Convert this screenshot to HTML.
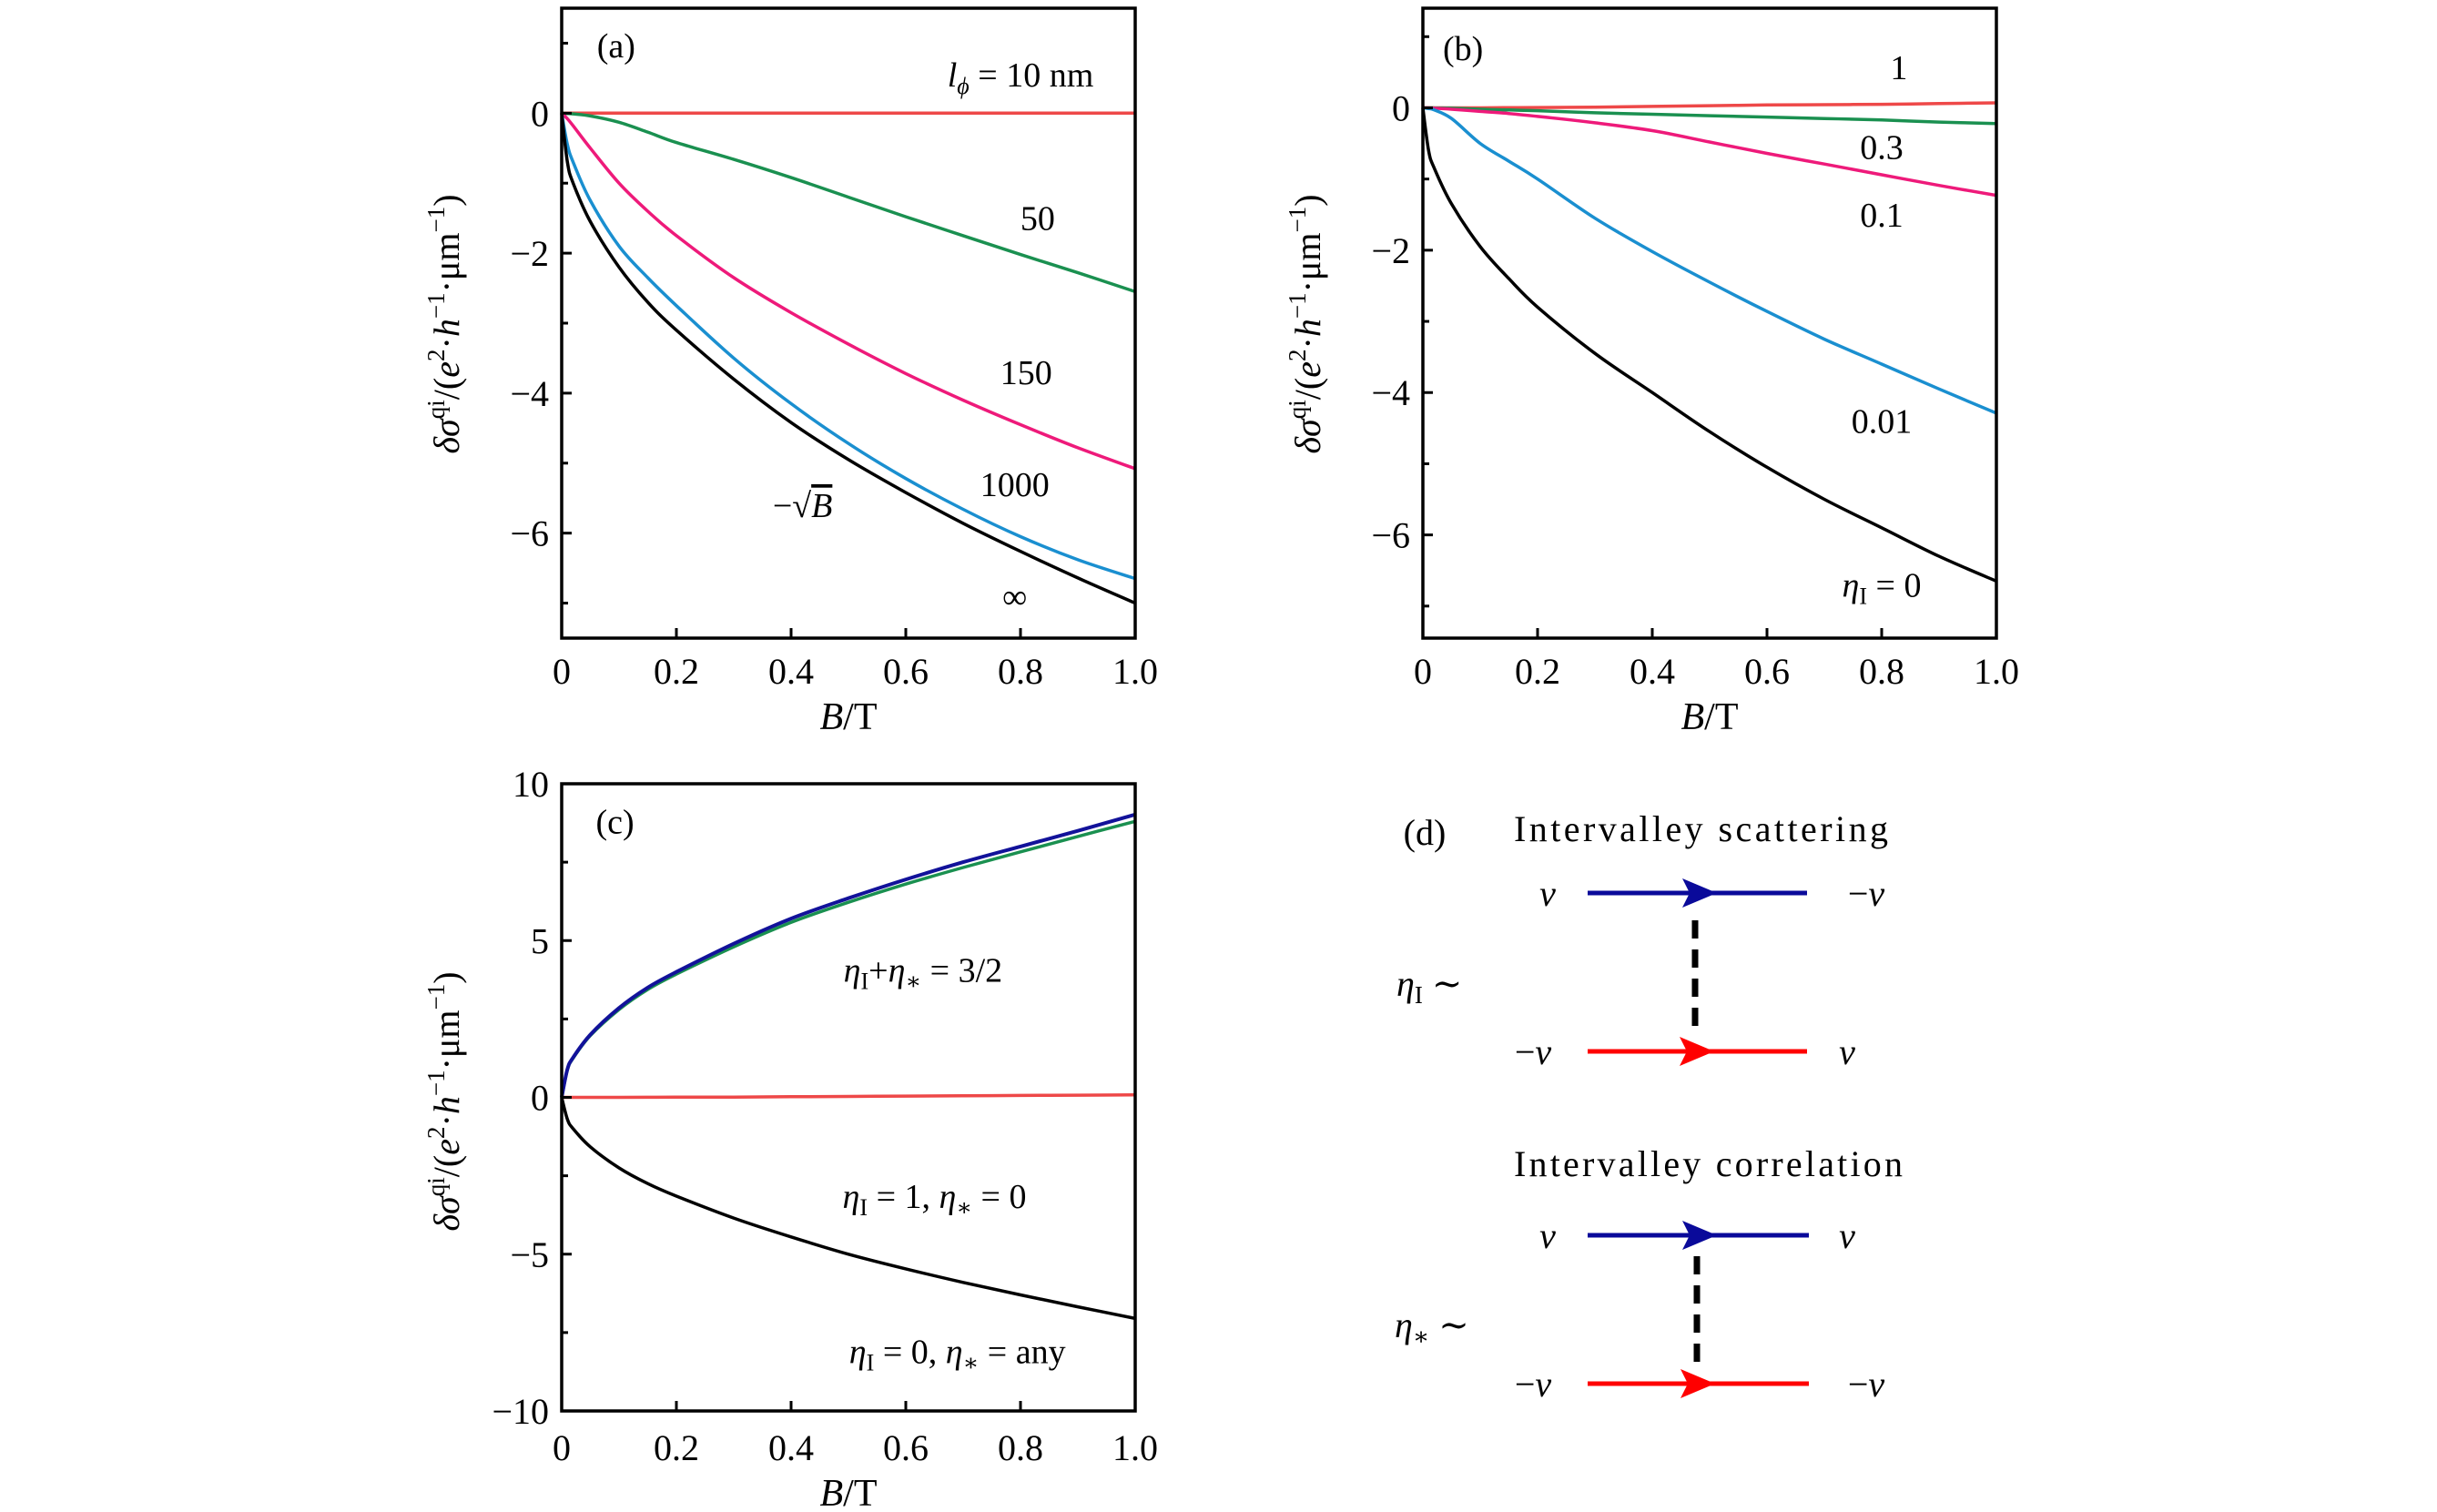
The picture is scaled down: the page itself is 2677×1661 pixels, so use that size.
<!DOCTYPE html>
<html><head><meta charset="utf-8"><style>
html,body{margin:0;padding:0;background:#fff}
svg{display:block}
text{font-family:"Liberation Serif","DejaVu Serif",serif;fill:#000}
.it{font-style:italic}
</style></head><body>
<svg id="fig" width="2677" height="1661" viewBox="0 0 2677 1661" xmlns="http://www.w3.org/2000/svg">
<g id="pa"></g>
<g id="pb"></g>
<g id="pc"></g>
<g id="pd">
  <text x="1565" y="928" font-size="40" text-anchor="middle">(d)</text>
  <text x="1663" y="924" font-size="40" textLength="411">Intervalley scattering</text>
  <line x1="1744" y1="981" x2="1985" y2="981" stroke="#0a0a9a" stroke-width="5"/>
  <path d="M1848,965 L1886,981 L1848,997 L1856,981 Z" fill="#0a0a9a"/>
  <text x="1700" y="995" font-size="40" class="it" text-anchor="middle">ν</text>
  <text x="2050" y="995" font-size="40" text-anchor="middle">−<tspan class="it">ν</tspan></text>
  <line x1="1862" y1="1011" x2="1862" y2="1134" stroke="#000" stroke-width="7" stroke-dasharray="20,12"/>
  <line x1="1744" y1="1155" x2="1985" y2="1155" stroke="#ff0000" stroke-width="5"/>
  <path d="M1845,1139 L1883,1155 L1845,1171 L1853,1155 Z" fill="#ff0000"/>
  <text x="1684" y="1169" font-size="40" text-anchor="middle">−<tspan class="it">ν</tspan></text>
  <text x="2029" y="1169" font-size="40" class="it" text-anchor="middle">ν</text>
  <text x="1534" y="1094" font-size="40"><tspan class="it">η</tspan><tspan font-size="27" dy="8">I</tspan><tspan dy="-8"> ∼</tspan></text>
  <text x="1663" y="1292" font-size="40" textLength="427">Intervalley correlation</text>
  <line x1="1744" y1="1357" x2="1987" y2="1357" stroke="#0a0a9a" stroke-width="5"/>
  <path d="M1848,1341 L1886,1357 L1848,1373 L1856,1357 Z" fill="#0a0a9a"/>
  <text x="1700" y="1371" font-size="40" class="it" text-anchor="middle">ν</text>
  <text x="2029" y="1371" font-size="40" class="it" text-anchor="middle">ν</text>
  <line x1="1864" y1="1380" x2="1864" y2="1503" stroke="#000" stroke-width="7" stroke-dasharray="20,12"/>
  <line x1="1744" y1="1520" x2="1987" y2="1520" stroke="#ff0000" stroke-width="5"/>
  <path d="M1846,1504 L1884,1520 L1846,1536 L1854,1520 Z" fill="#ff0000"/>
  <text x="1684" y="1534" font-size="40" text-anchor="middle">−<tspan class="it">ν</tspan></text>
  <text x="2050" y="1534" font-size="40" text-anchor="middle">−<tspan class="it">ν</tspan></text>
  <text x="1532" y="1469" font-size="40"><tspan class="it">η</tspan><tspan font-size="27" dy="8">∗</tspan><tspan dy="-8"> ∼</tspan></text>
</g>
</svg>
<script>
const NS="http://www.w3.org/2000/svg";
const Bvals=[0,0.01,0.02,0.05,0.1,0.15,0.2,0.3,0.4,0.5,0.6,0.7,0.8,0.9,1.0];
const xTicks=[0,0.2,0.4,0.6,0.8,1.0];
const xTickLabels=["0","0.2","0.4","0.6","0.8","1.0"];
// panel a
const aBlack=[0,-0.7,-1.0,-1.55,-2.2,-2.7,-3.1,-3.8,-4.42,-4.95,-5.42,-5.86,-6.26,-6.64,-7.0];
const aBlue=[0,-0.45,-0.7,-1.25,-1.9,-2.35,-2.75,-3.5,-4.15,-4.72,-5.22,-5.66,-6.05,-6.38,-6.65];
const aMagenta=[0,-0.08,-0.18,-0.5,-1.0,-1.4,-1.75,-2.35,-2.85,-3.3,-3.72,-4.1,-4.45,-4.78,-5.08];
const aGreen=[0,-0.005,-0.01,-0.04,-0.13,-0.27,-0.42,-0.66,-0.92,-1.2,-1.48,-1.75,-2.02,-2.28,-2.55];
const aRed=[0,0,0,0,0,0,0,0,0,0,0,0,0,0,0];
const abYTicks=[0,-2,-4,-6];
const abYTickLabels=["0","−2","−4","−6"];
const abYMinor=[1,-1,-3,-5,-7];
// panel b
const bBlack=[0,-0.6,-0.85,-1.35,-1.95,-2.4,-2.8,-3.45,-4.0,-4.55,-5.05,-5.5,-5.9,-6.3,-6.65];
const bBlue=[0,-0.01,-0.03,-0.15,-0.5,-0.75,-1.0,-1.55,-2.02,-2.45,-2.86,-3.25,-3.6,-3.95,-4.29];
const bMagenta=[0,0,-0.005,-0.02,-0.05,-0.08,-0.12,-0.21,-0.32,-0.48,-0.64,-0.79,-0.94,-1.09,-1.23];
const bGreen=[0,0,0,-0.005,-0.02,-0.03,-0.04,-0.07,-0.09,-0.11,-0.13,-0.15,-0.17,-0.2,-0.22];
const bRed=[0,0,0,0,0,0.003,0.005,0.01,0.02,0.03,0.04,0.045,0.05,0.06,0.07];
// panel c
const cBlue=[0,0.9,1.27,2.0,2.85,3.5,4.0,4.9,5.7,6.35,6.95,7.5,8.0,8.5,9.02];
const cGreen=[0,0.88,1.25,1.97,2.8,3.44,3.93,4.8,5.58,6.22,6.8,7.33,7.83,8.32,8.8];
const cBlack=[0,-0.7,-1.0,-1.58,-2.25,-2.75,-3.15,-3.85,-4.45,-5.0,-5.47,-5.9,-6.3,-6.68,-7.05];
const cRed=[0,0,0,0,0,0.002,0.005,0.01,0.02,0.03,0.04,0.05,0.06,0.07,0.08];
const cYTicks=[10,5,0,-5,-10];
const cYTickLabels=["10","5","0","−5","−10"];
const cYMinor=[7.5,2.5,-2.5,-7.5];

function mk(parent,tag,attrs){const e=document.createElementNS(NS,tag);for(const k in attrs)e.setAttribute(k,attrs[k]);parent.appendChild(e);return e;}

function smoothPath(pts){
  let d="M"+pts[0][0].toFixed(1)+","+pts[0][1].toFixed(1);
  for(let i=0;i<pts.length-1;i++){
    const p0=pts[Math.max(0,i-1)],p1=pts[i],p2=pts[i+1],p3=pts[Math.min(pts.length-1,i+2)];
    const c1=[p1[0]+(p2[0]-p0[0])/6,p1[1]+(p2[1]-p0[1])/6];
    const c2=[p2[0]-(p3[0]-p1[0])/6,p2[1]-(p3[1]-p1[1])/6];
    d+=" C"+c1[0].toFixed(1)+","+c1[1].toFixed(1)+" "+c2[0].toFixed(1)+","+c2[1].toFixed(1)+" "+p2[0].toFixed(1)+","+p2[1].toFixed(1);
  }
  return d;
}

function panel(gid,L,R,T,Bt,ymin,ymax,yTicks,yLabels,yMinor,series,labels,ylabelY,xlabelY){
  const g=document.getElementById(gid);
  const sx=v=>L+(v-0)/(1-0)*(R-L);
  const sy=v=>Bt-(v-ymin)/(ymax-ymin)*(Bt-T);
  const cg=mk(g,"g",{});
  
  
  series.forEach(s=>{
    const pts=Bvals.map((b,i)=>[sx(b),sy(s.v[i])]);
    const p=mk(cg,"path",{d:smoothPath(pts),fill:"none",stroke:s.c,"stroke-width":s.w||3.5,"stroke-linejoin":"round"});
    
    
  });
  const fr=mk(g,"rect",{x:L,y:T,width:R-L,height:Bt-T,fill:"none",stroke:"#000","stroke-width":3.5});
  
  
  xTicks.forEach((t,i)=>{
    const tk=mk(g,"line",{x1:sx(t),x2:sx(t),y1:Bt,y2:Bt-11,stroke:"#000","stroke-width":3});
    
    
    const tl=mk(g,"text",{x:sx(t),y:xlabelY,"font-size":40,"text-anchor":"middle"});
    tl.textContent=xTickLabels[i];
    
    
  });
  yTicks.forEach((t,i)=>{
    const tk=mk(g,"line",{x1:L,x2:L+11,y1:sy(t),y2:sy(t),stroke:"#000","stroke-width":3});
    
    
    const tl=mk(g,"text",{x:L-14,y:sy(t)+14,"font-size":40,"text-anchor":"end"});
    tl.textContent=yLabels[i];
    
    
  });
  yMinor.forEach(t=>{
    const tk=mk(g,"line",{x1:L,x2:L+7,y1:sy(t),y2:sy(t),stroke:"#000","stroke-width":3});
    
    
  });
  const yl=mk(g,"text",{x:0,y:0,"font-size":40,"text-anchor":"middle",transform:"translate("+(L-113)+","+ylabelY+") rotate(-90)"});
  yl.innerHTML='<tspan class="it">δσ</tspan><tspan font-size="27" dy="-16">qi</tspan><tspan dy="16">/(</tspan><tspan class="it">e</tspan><tspan font-size="27" dy="-16">2</tspan><tspan dy="16">·</tspan><tspan class="it">h</tspan><tspan font-size="27" dy="-16">−1</tspan><tspan dy="16">·μm</tspan><tspan font-size="27" dy="-16">−1</tspan><tspan dy="16">)</tspan>';
  
  
  const xl=mk(g,"text",{x:(L+R)/2,y:xlabelY+50,"font-size":42,"text-anchor":"middle"});
  xl.innerHTML='<tspan class="it">B</tspan>/T';
  
  
  labels.forEach(l=>{
    const t=mk(g,"text",{x:sx(l.x),y:sy(l.y)+13,"font-size":38,"text-anchor":"middle"});
    t.innerHTML=l.t;
    
    
  });
}
const sub=s=>'<tspan font-size="26" dy="8">'+s+'</tspan><tspan dy="-8">';
panel("pa",617,1247,9,701,-7.5,1.5,abYTicks,abYTickLabels,abYMinor,[
  {v:aRed,c:"#ee4848",n:"curve-l10"},{v:aGreen,c:"#1a9050",n:"curve-l50"},
  {v:aMagenta,c:"#ee1a7a",n:"curve-l150"},{v:aBlue,c:"#1a8fd0",n:"curve-l1000"},{v:aBlack,c:"#000",n:"curve-linf"}],
  [{x:0.095,y:0.97,t:"(a)",n:"panel-a-label"},
   {x:0.80,y:0.55,t:'<tspan class="it">l</tspan>'+sub('<tspan class="it">ϕ</tspan>')+' = 10 nm</tspan>',n:"label-l10"},
   {x:0.83,y:-1.5,t:"50",n:"label-50"},{x:0.81,y:-3.7,t:"150",n:"label-150"},
   {x:0.79,y:-5.3,t:"1000",n:"label-1000"},{x:0.42,y:-5.6,t:'−√<tspan class="it" text-decoration="overline">B</tspan>',n:"label-sqrtB"},
   {x:0.79,y:-6.9,t:"∞",n:"label-infinity"}],356,751);
panel("pb",1563,2193,9,701,-7.45,1.4,abYTicks,abYTickLabels,abYMinor,[
  {v:bRed,c:"#ee4848",n:"curve-eta1"},{v:bGreen,c:"#1a9050",n:"curve-eta0.3"},
  {v:bMagenta,c:"#ee1a7a",n:"curve-eta0.1"},{v:bBlue,c:"#1a8fd0",n:"curve-eta0.01"},{v:bBlack,c:"#000",n:"curve-eta0"}],
  [{x:0.07,y:0.84,t:"(b)",n:"panel-b-label"},{x:0.83,y:0.57,t:"1",n:"label-1"},
   {x:0.80,y:-0.55,t:"0.3",n:"label-0.3"},{x:0.80,y:-1.5,t:"0.1",n:"label-0.1"},
   {x:0.80,y:-4.4,t:"0.01",n:"label-0.01"},
   {x:0.80,y:-6.7,t:'<tspan class="it">η</tspan>'+sub('I')+' = 0</tspan>',n:"label-eta0"}],356,751);
panel("pc",617,1247,861,1550,-10,10,cYTicks,cYTickLabels,cYMinor,[
  {v:cRed,c:"#ee4848",n:"curve-eta1-star0-red"},{v:cGreen,c:"#1a9050",n:"curve-sum-green"},
  {v:cBlue,c:"#12129a",n:"curve-sum-blue",w:4},{v:cBlack,c:"#000",n:"curve-eta0"}],
  [{x:0.093,y:8.8,t:"(c)",n:"panel-c-label"},
   {x:0.63,y:4.06,t:'<tspan class="it">η</tspan>'+sub('I')+'+</tspan><tspan class="it">η</tspan>'+sub('∗')+' = 3/2</tspan>',n:"label-sum"},
   {x:0.65,y:-3.15,t:'<tspan class="it">η</tspan>'+sub('I')+' = 1, </tspan><tspan class="it">η</tspan>'+sub('∗')+' = 0</tspan>',n:"label-eta1"},
   {x:0.69,y:-8.1,t:'<tspan class="it">η</tspan>'+sub('I')+' = 0, </tspan><tspan class="it">η</tspan>'+sub('∗')+' = any</tspan>',n:"label-eta0-any"}],1210,1604);
</script>
</body></html>
